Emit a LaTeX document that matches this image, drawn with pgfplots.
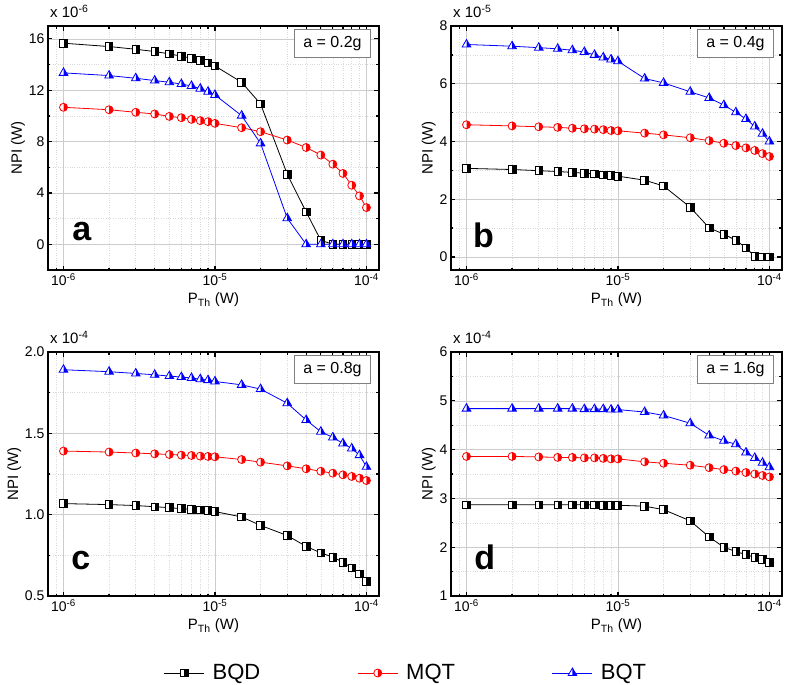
\documentclass[border=0pt]{standalone}
\usepackage{fontspec}
\setmainfont{Liberation Sans}
\usepackage{pgfplots}
\usepackage{pgfplotstable}
\pgfplotsset{compat=1.18}
\usetikzlibrary{plotmarks}

% half-filled marks: left half white, right half in the fill colour
\pgfdeclareplotmark{hsq}{%
  \begin{pgfscope}\pgfsetfillcolor{white}%
  \pgfpathrectanglecorners{\pgfqpoint{-\pgfplotmarksize}{-\pgfplotmarksize}}{\pgfqpoint{\pgfplotmarksize}{\pgfplotmarksize}}%
  \pgfusepathqfill\end{pgfscope}%
  \pgfpathrectanglecorners{\pgfqpoint{0pt}{-\pgfplotmarksize}}{\pgfqpoint{\pgfplotmarksize}{\pgfplotmarksize}}%
  \pgfusepathqfill
  \pgfpathrectanglecorners{\pgfqpoint{-\pgfplotmarksize}{-\pgfplotmarksize}}{\pgfqpoint{\pgfplotmarksize}{\pgfplotmarksize}}%
  \pgfusepathqstroke
}
\pgfdeclareplotmark{hci}{%
  \begin{pgfscope}\pgfsetfillcolor{white}%
  \pgfpathcircle{\pgfpointorigin}{\pgfplotmarksize}%
  \pgfusepathqfill\end{pgfscope}%
  \pgfpathmoveto{\pgfqpoint{0pt}{\pgfplotmarksize}}%
  \pgfpatharc{90}{-90}{\pgfplotmarksize}%
  \pgfpathclose
  \pgfusepathqfill
  \pgfpathcircle{\pgfpointorigin}{\pgfplotmarksize}%
  \pgfusepathqstroke
}
\pgfdeclareplotmark{htr}{%
  \begin{pgfscope}\pgfsetfillcolor{white}%
  \pgfpathmoveto{\pgfqpoint{0pt}{\pgfplotmarksize}}%
  \pgfpathlineto{\pgfqpoint{-.866\pgfplotmarksize}{-.5\pgfplotmarksize}}%
  \pgfpathlineto{\pgfqpoint{.866\pgfplotmarksize}{-.5\pgfplotmarksize}}%
  \pgfpathclose
  \pgfusepathqfill\end{pgfscope}%
  \pgfpathmoveto{\pgfqpoint{0pt}{\pgfplotmarksize}}%
  \pgfpathlineto{\pgfqpoint{0pt}{-.5\pgfplotmarksize}}%
  \pgfpathlineto{\pgfqpoint{.866\pgfplotmarksize}{-.5\pgfplotmarksize}}%
  \pgfpathclose
  \pgfusepathqfill
  \pgfpathmoveto{\pgfqpoint{0pt}{\pgfplotmarksize}}%
  \pgfpathlineto{\pgfqpoint{-.866\pgfplotmarksize}{-.5\pgfplotmarksize}}%
  \pgfpathlineto{\pgfqpoint{.866\pgfplotmarksize}{-.5\pgfplotmarksize}}%
  \pgfpathclose
  \pgfusepathqstroke
}

\pgfplotstableread{
x bqd mqt bqt
1e-6 15.66 10.67 13.35
2e-6 15.40 10.48 13.14
3e-6 15.19 10.28 12.93
4e-6 15.01 10.15 12.75
5e-6 14.83 9.96 12.62
6e-6 14.65 9.86 12.48
7e-6 14.49 9.73 12.33
8e-6 14.31 9.63 12.12
9e-6 14.13 9.55 11.88
1e-5 13.89 9.42 11.63
1.5e-5 12.62 9.08 10.02
2e-5 10.93 8.77 7.86
3e-5 5.46 8.12 2.03
4e-5 2.52 7.54 0
5e-5 0.31 6.95 0
6e-5 0 6.24 0
7e-5 0 5.52 0
8e-5 0 4.60 0
9e-5 0 3.77 0
1e-4 0 2.86 0
}\tA
\pgfplotstableread{
x bqd mqt bqt
1e-6 3.07 4.58 7.36
2e-6 3.03 4.54 7.30
3e-6 2.99 4.51 7.25
4e-6 2.96 4.49 7.21
5e-6 2.93 4.46 7.16
6e-6 2.90 4.44 7.10
7e-6 2.88 4.43 7.00
8e-6 2.85 4.41 6.91
9e-6 2.82 4.38 6.84
1e-5 2.80 4.37 6.78
1.5e-5 2.66 4.29 6.18
2e-5 2.46 4.23 6.03
3e-5 1.72 4.13 5.72
4e-5 1.01 4.03 5.51
5e-5 0.79 3.94 5.26
6e-5 0.58 3.86 5.01
7e-5 0.32 3.78 4.78
8e-5 0.02 3.69 4.52
9e-5 0 3.58 4.27
1e-4 0 3.48 4.00
}\tB
\pgfplotstableread{
x bqd mqt bqt
1e-6 1.068 1.391 1.891
2e-6 1.062 1.385 1.879
3e-6 1.056 1.379 1.868
4e-6 1.049 1.374 1.860
5e-6 1.043 1.370 1.852
6e-6 1.037 1.366 1.846
7e-6 1.033 1.364 1.840
8e-6 1.029 1.360 1.833
9e-6 1.025 1.358 1.827
1e-5 1.019 1.356 1.819
1.5e-5 0.986 1.339 1.798
2e-5 0.934 1.323 1.772
3e-5 0.872 1.300 1.685
4e-5 0.805 1.282 1.582
5e-5 0.765 1.267 1.510
6e-5 0.739 1.255 1.475
7e-5 0.708 1.245 1.438
8e-5 0.673 1.235 1.407
9e-5 0.636 1.224 1.366
1e-4 0.591 1.210 1.294
}\tC
\pgfplotstableread{
x bqd mqt bqt
1e-6 2.87 3.86 4.84
2e-6 2.87 3.86 4.84
3e-6 2.87 3.85 4.84
4e-6 2.87 3.84 4.84
5e-6 2.87 3.84 4.84
6e-6 2.87 3.83 4.83
7e-6 2.87 3.83 4.83
8e-6 2.86 3.82 4.83
9e-6 2.86 3.81 4.82
1e-5 2.86 3.81 4.82
1.5e-5 2.84 3.75 4.77
2e-5 2.77 3.72 4.70
3e-5 2.54 3.68 4.54
4e-5 2.21 3.63 4.29
5e-5 2.00 3.59 4.18
6e-5 1.91 3.56 4.11
7e-5 1.85 3.53 3.94
8e-5 1.79 3.50 3.83
9e-5 1.75 3.47 3.73
1e-4 1.69 3.44 3.64
}\tD

\pgfplotsset{
  every axis/.append style={
    xmode=log, scale only axis, width=331pt, height=244pt,
    xmin=7.9e-7, xmax=1.21e-4,
    xtick={1e-6,1e-5,1e-4},
    xticklabels={10\textsuperscript{-6},10\textsuperscript{-5},10\textsuperscript{-4}},
    minor xtick={9e-7,2e-6,3e-6,4e-6,5e-6,6e-6,7e-6,8e-6,9e-6,2e-5,3e-5,4e-5,5e-5,6e-5,7e-5,8e-5,9e-5},
    minor y tick num=1,
    grid=both,
    major grid style={gray!40, line width=0.6pt},
    minor grid style={gray!30, dotted, line width=0.6pt},
    tick align=inside, xtick pos=both, ytick pos=both,
    xticklabel pos=lower, yticklabel pos=left,
    major tick length=4.5pt, minor tick length=2.5pt,
    tick style={black, line width=1.3pt},
    axis line style={line width=2.2pt},
    /pgf/number format/assume math mode=true,
    tick label style={font=\fontsize{14}{16}\selectfont},
    xlabel style={font=\fontsize{15}{17}\selectfont},
    ylabel style={font=\fontsize{15}{17}\selectfont},
    ylabel shift=-3pt,
    xlabel={P\textsubscript{Th} (W)}, ylabel={NPI (W)},
    title style={at={(0,1)}, anchor=south west, font=\fontsize{15}{17}\selectfont, inner sep=2pt, yshift=0pt},
  },
  legend image code/.code={%
      \draw[#1, mark=none] (0pt,0pt) -- (40pt,0pt);
      \draw[#1, only marks] plot coordinates {(20pt,0pt)};},
  sBQD/.style={black, line width=0.8pt, mark=hsq, mark size=3.8pt},
  sMQT/.style={red, line width=0.8pt, mark=hci, mark size=4pt},
  sBQT/.style={blue, line width=0.8pt, mark=htr, mark size=5pt},
}
\tikzset{
  gbox/.style={draw=gray, fill=white, line width=0.8pt, inner xsep=9pt, inner ysep=7pt, font=\fontsize{16}{18}\selectfont},
  plab/.style={font=\fontsize{34}{36}\selectfont\bfseries, anchor=base west, inner sep=0pt},
}

\begin{document}
\begin{tikzpicture}
\useasboundingbox (0,0) rectangle (787pt,-685pt);
% a
\begin{axis}[at={(48pt,-26pt)}, anchor=north west,
  ymin=-2, ymax=17, ytick={0,4,8,12,16}, title={x 10\textsuperscript{-6}}]
\addplot[sBQD] table[x=x,y=bqd]{\tA};
\addplot[sMQT] table[x=x,y=mqt]{\tA};
\addplot[sBQT] table[x=x,y=bqt]{\tA};
\node[gbox, anchor=north east] at (rel axis cs:0.976,0.988) {a = 0.2g};
\node[plab] at (rel axis cs:0.073,0.12) {a};
\end{axis}
% b
\begin{axis}[at={(451pt,-26pt)}, anchor=north west,
  ymin=-0.45, ymax=8, ytick={0,2,4,6,8}, title={x 10\textsuperscript{-5}}]
\addplot[sBQD] table[x=x,y=bqd]{\tB};
\addplot[sMQT] table[x=x,y=mqt]{\tB};
\addplot[sBQT] table[x=x,y=bqt]{\tB};
\node[gbox, anchor=north east] at (rel axis cs:0.976,0.988) {a = 0.4g};
\node[plab] at (rel axis cs:0.066,0.094) {b};
\end{axis}
% c
\begin{axis}[at={(48pt,-352pt)}, anchor=north west,
  ymin=0.5, ymax=2.0, ytick={0.5,1.0,1.5,2.0},
  yticklabel style={/pgf/number format/.cd, fixed, fixed zerofill, precision=1},
  title={x 10\textsuperscript{-4}},
  legend columns=3,
  legend style={at={(rel axis cs:1.0816,-0.3156)}, anchor=center, draw=none, fill=none,
    font=\fontsize{22}{24}\selectfont,
    /tikz/every odd column/.append style={column sep=6pt},
    /tikz/every even column/.append style={column sep=95pt}}]
\addplot[sBQD] table[x=x,y=bqd]{\tC};
\addlegendentry{BQD}
\addplot[sMQT] table[x=x,y=mqt]{\tC};
\addlegendentry{MQT}
\addplot[sBQT] table[x=x,y=bqt]{\tC};
\addlegendentry{BQT}
\node[gbox, anchor=north east] at (rel axis cs:0.976,0.988) {a = 0.8g};
\node[plab] at (rel axis cs:0.07,0.107) {c};
\end{axis}
% d
\begin{axis}[at={(451pt,-352pt)}, anchor=north west,
  ymin=1, ymax=6, ytick={1,2,3,4,5,6}, title={x 10\textsuperscript{-4}}]
\addplot[sBQD] table[x=x,y=bqd]{\tD};
\addplot[sMQT] table[x=x,y=mqt]{\tD};
\addplot[sBQT] table[x=x,y=bqt]{\tD};
\node[gbox, anchor=north east] at (rel axis cs:0.976,0.988) {a = 1.6g};
\node[plab] at (rel axis cs:0.07,0.107) {d};
\end{axis}
\end{tikzpicture}
\end{document}
